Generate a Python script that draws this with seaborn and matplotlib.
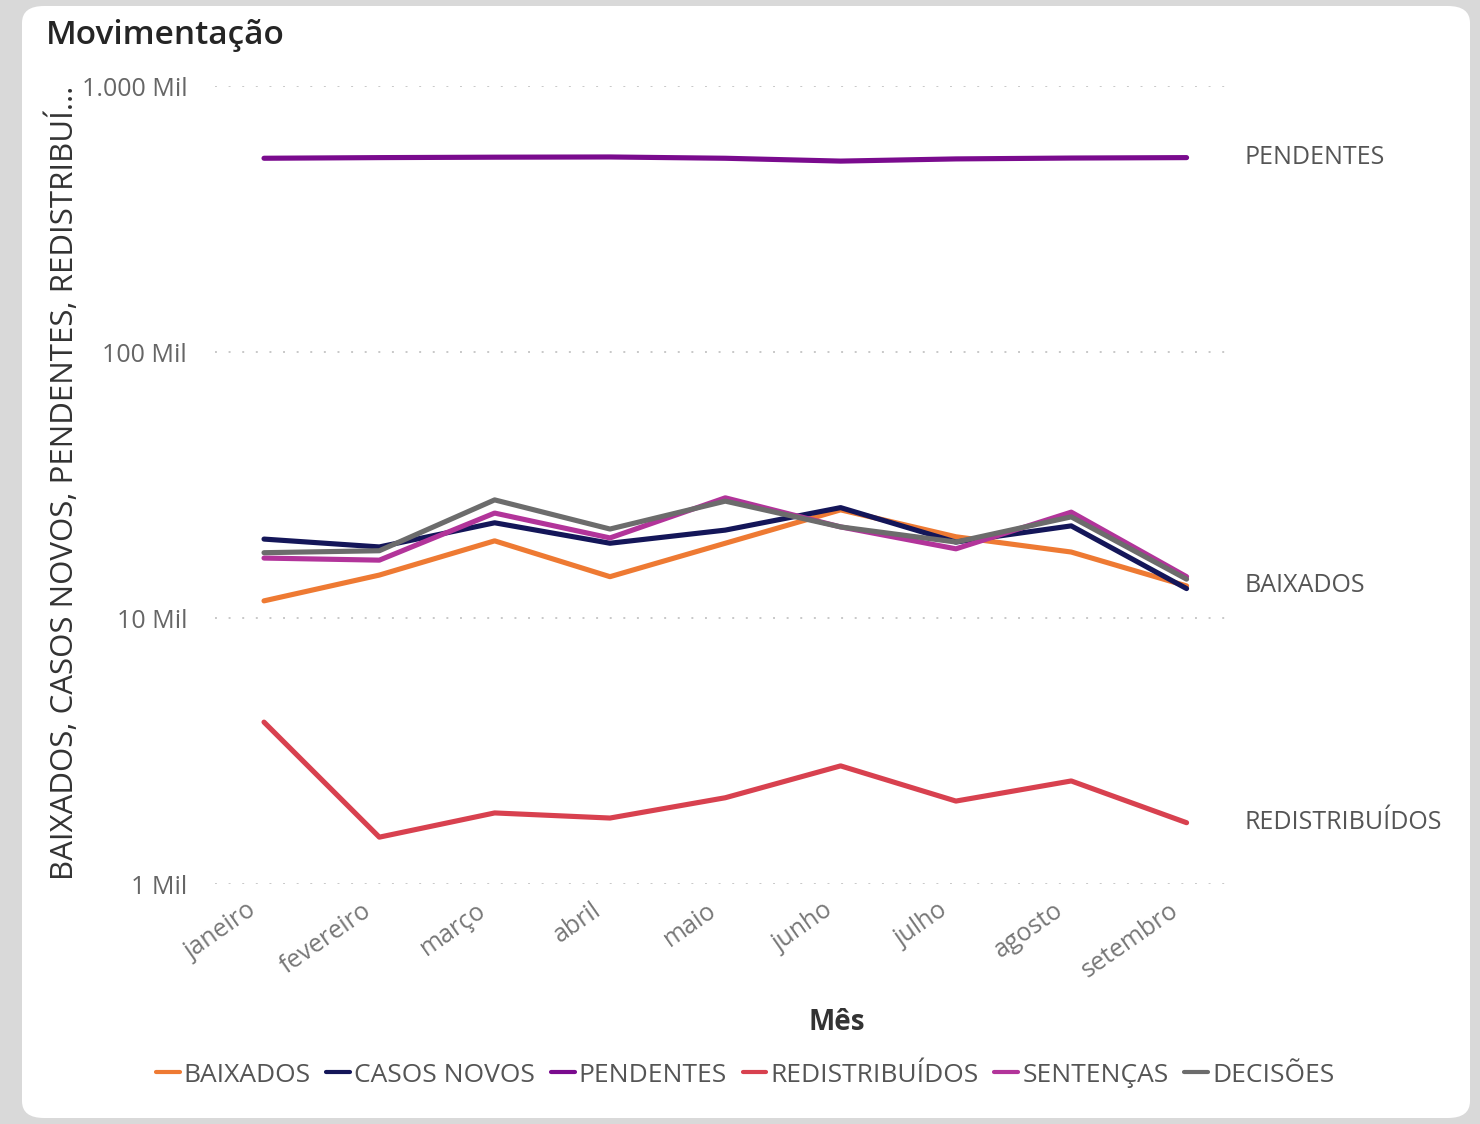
import seaborn as sns
import matplotlib.pyplot as plt
import pandas as pd
from matplotlib.patches import FancyBboxPatch
from matplotlib.ticker import FixedLocator, FuncFormatter, NullLocator
from matplotlib.transforms import ScaledTranslation

# dados
meses = ['janeiro', 'fevereiro', 'março', 'abril', 'maio', 'junho', 'julho', 'agosto', 'setembro']
baixados = [11600, 14500, 19500, 14300, 19100, 25500, 20200, 17700, 13200]
casos_novos = [19800, 18500, 22800, 19100, 21400, 26000, 19300, 22200, 12900]
pendentes = [535000, 538000, 540000, 541000, 535000, 522000, 532000, 536000, 538000]
redistribuidos = [4060, 1500, 1850, 1770, 2110, 2780, 2050, 2440, 1700]
sentencas = [16800, 16500, 24800, 20000, 28300, 22000, 18200, 25000, 14300]
decisoes = [17600, 17900, 27800, 21600, 27500, 22000, 19300, 24000, 14000]

series = ['BAIXADOS', 'CASOS NOVOS', 'PENDENTES', 'REDISTRIBUÍDOS', 'SENTENÇAS', 'DECISÕES']
valores = [baixados, casos_novos, pendentes, redistribuidos, sentencas, decisoes]
cores = ['#EE7A33', '#141659', '#7A0B8E', '#D8414F', '#B2349A', '#6C6C6C']

rows = []
for nome, vals in zip(series, valores):
    for m, v in zip(meses, vals):
        rows.append({'Mês': m, 'valor': v, 'serie': nome})
df = pd.DataFrame(rows)

sns.set_style('white')
plt.rcParams['font.family'] = ['Open Sans', 'DejaVu Sans']

fig = plt.figure(figsize=(14.8, 11.24), dpi=100)
fig.patch.set_facecolor('#d9d9d9')
card = FancyBboxPatch((22 / 1480, 6 / 1124), 1448 / 1480, 1112 / 1124,
                      boxstyle='round,pad=0,rounding_size=0.015',
                      transform=fig.transFigure, facecolor='white', edgecolor='none', zorder=-10)
fig.patches.append(card)

ax = fig.add_axes([215 / 1480, 1 - 884 / 1124, 1020 / 1480, (884 - 86) / 1124])
ax.set_facecolor('none')

sns.lineplot(data=df, x='Mês', y='valor', hue='serie', hue_order=series,
             palette=dict(zip(series, cores)), linewidth=3.7, sort=False, ax=ax, legend=False)

ax.set_yscale('log')
ax.set_ylim(1000, 1e6)
ax.set_xlim(-0.425, 8.42)
ax.yaxis.set_major_locator(FixedLocator([1e3, 1e4, 1e5, 1e6]))
ax.yaxis.set_minor_locator(NullLocator())
ax.yaxis.set_major_formatter(FuncFormatter(
    lambda v, p: {1e3: '1 Mil', 1e4: '10 Mil', 1e5: '100 Mil', 1e6: '1.000 Mil'}.get(v, '')))
ax.grid(axis='y', color='#c8c8c8', linestyle=(0, (1, 6)), linewidth=1.4)
ax.grid(axis='x', visible=False)
for s in ax.spines.values():
    s.set_visible(False)
ax.tick_params(axis='y', length=0, labelsize=18, labelcolor='#666666', pad=20)
ax.tick_params(axis='x', length=0, labelsize=18, labelcolor='#777777', pad=10)
shift = ScaledTranslation(-18 / 100, 0, fig.dpi_scale_trans)
for lbl in ax.get_xticklabels():
    lbl.set_rotation(35)
    lbl.set_ha('right')
    lbl.set_rotation_mode('anchor')
    lbl.set_transform(lbl.get_transform() + shift)

ax.set_xlabel('')
ax.set_ylabel('')
fig.text(837 / 1480, 1 - 1022 / 1124, 'Mês', fontsize=20, fontweight='bold', color='#333333',
         ha='center', va='center')
fig.text(63 / 1480, 1 - 483 / 1124, 'BAIXADOS, CASOS NOVOS, PENDENTES, REDISTRIBUÍ...',
         rotation=90, ha='center', va='center', fontsize=22.5, color='#333333')

fig.text(46 / 1480, 1 - 36 / 1124, 'Movimentação', fontsize=24, fontweight='semibold',
         color='#252525', ha='left', va='center')

# rótulos no fim das linhas
for nome, vals in [('PENDENTES', pendentes), ('BAIXADOS', baixados), ('REDISTRIBUÍDOS', redistribuidos)]:
    ax.text(8.5, vals[-1], nome, ha='left', va='center', fontsize=18, color='#555555', clip_on=False)

handles = [plt.Line2D([0], [0], color=c, linewidth=3) for c in cores]
fig.legend(handles, series, loc='center', bbox_to_anchor=(745 / 1480, 1 - 1075 / 1124), ncol=6,
           frameon=False, fontsize=19, handlelength=0.9, handletextpad=0.15, columnspacing=0.6,
           labelcolor='#555555')

plt.savefig('out.png', dpi=100, facecolor=fig.get_facecolor())
